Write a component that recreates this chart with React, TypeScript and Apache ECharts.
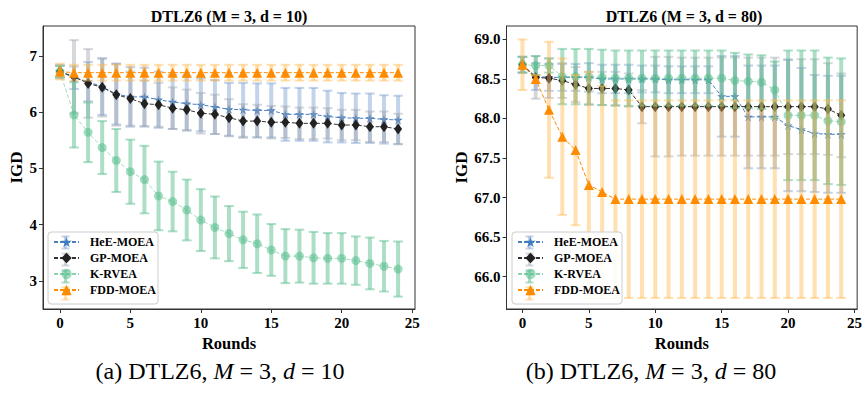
import React, { useEffect, useRef } from "react";
import * as echarts from "echarts";

const rounds = [0, 1, 2, 3, 4, 5, 6, 7, 8, 9, 10, 11, 12, 13, 14, 15, 16, 17, 18, 19, 20, 21, 22, 23, 24];
const methodNames = ["HeE-MOEA", "GP-MOEA", "K-RVEA", "FDD-MOEA"];
const xTicks = [0, 5, 10, 15, 20, 25];
const yTicksLeft = [3, 4, 5, 6, 7];
const yTicksRight = [66.0, 66.5, 67.0, 67.5, 68.0, 68.5, 69.0];

// (a) d = 10
const heMeanL = [6.72, 6.61, 6.54, 6.45, 6.32, 6.27, 6.27, 6.22, 6.18, 6.15, 6.13, 6.09, 6.05, 6.04, 6.03, 6.03, 5.96, 5.96, 5.96, 5.92, 5.90, 5.89, 5.89, 5.87, 5.86];
const heStdL = [0.12, 0.20, 0.35, 0.50, 0.54, 0.53, 0.52, 0.50, 0.48, 0.48, 0.47, 0.48, 0.47, 0.48, 0.48, 0.48, 0.47, 0.47, 0.47, 0.46, 0.44, 0.44, 0.44, 0.43, 0.43];
const gpMeanL = [6.72, 6.63, 6.51, 6.44, 6.31, 6.24, 6.15, 6.13, 6.07, 6.04, 5.98, 5.96, 5.90, 5.84, 5.84, 5.82, 5.82, 5.80, 5.80, 5.80, 5.77, 5.77, 5.74, 5.74, 5.70];
const gpStdL = [0.10, 0.65, 0.61, 0.52, 0.55, 0.48, 0.41, 0.39, 0.37, 0.36, 0.36, 0.35, 0.33, 0.30, 0.29, 0.29, 0.28, 0.28, 0.28, 0.27, 0.27, 0.27, 0.27, 0.27, 0.27];
const krMeanL = [6.72, 5.95, 5.64, 5.37, 5.14, 4.94, 4.80, 4.51, 4.41, 4.26, 4.08, 3.95, 3.84, 3.73, 3.66, 3.55, 3.44, 3.44, 3.41, 3.40, 3.40, 3.36, 3.31, 3.26, 3.21];
const krStdL = [0.10, 0.58, 0.53, 0.47, 0.56, 0.57, 0.60, 0.61, 0.53, 0.54, 0.55, 0.55, 0.49, 0.50, 0.52, 0.46, 0.48, 0.47, 0.46, 0.45, 0.45, 0.43, 0.46, 0.45, 0.49];
const fdMeanL = [6.72, 6.70, 6.70, 6.70, 6.70, 6.70, 6.70, 6.70, 6.70, 6.70, 6.70, 6.70, 6.70, 6.70, 6.70, 6.70, 6.70, 6.70, 6.70, 6.70, 6.70, 6.70, 6.70, 6.70, 6.70];
const fdStdL = [0.14, 0.14, 0.14, 0.14, 0.14, 0.14, 0.14, 0.14, 0.14, 0.14, 0.14, 0.14, 0.14, 0.14, 0.14, 0.14, 0.14, 0.14, 0.14, 0.14, 0.14, 0.14, 0.14, 0.14, 0.14];

// (b) d = 80
const heMeanR = [68.68, 68.53, 68.52, 68.52, 68.52, 68.52, 68.50, 68.50, 68.50, 68.50, 68.50, 68.49, 68.49, 68.49, 68.49, 68.28, 68.28, 68.02, 68.02, 68.02, 67.91, 67.86, 67.81, 67.80, 67.80];
const heStdR = [0.10, 0.17, 0.17, 0.17, 0.17, 0.18, 0.18, 0.18, 0.18, 0.17, 0.17, 0.17, 0.17, 0.17, 0.17, 0.51, 0.51, 0.65, 0.65, 0.65, 0.83, 0.78, 0.74, 0.74, 0.74];
const gpMeanR = [68.68, 68.52, 68.51, 68.48, 68.43, 68.38, 68.38, 68.38, 68.36, 68.15, 68.15, 68.15, 68.15, 68.15, 68.15, 68.15, 68.15, 68.15, 68.15, 68.15, 68.15, 68.15, 68.15, 68.12, 68.04];
const gpStdR = [0.10, 0.27, 0.25, 0.22, 0.22, 0.21, 0.21, 0.21, 0.21, 0.21, 0.63, 0.63, 0.62, 0.62, 0.62, 0.62, 0.62, 0.62, 0.62, 0.62, 0.60, 0.60, 0.60, 0.58, 0.53];
const krMeanR = [68.68, 68.67, 68.67, 68.53, 68.53, 68.53, 68.52, 68.51, 68.51, 68.51, 68.51, 68.51, 68.51, 68.51, 68.51, 68.51, 68.48, 68.47, 68.46, 68.36, 68.04, 68.04, 68.04, 67.97, 67.96];
const krStdR = [0.10, 0.12, 0.09, 0.35, 0.35, 0.35, 0.35, 0.35, 0.35, 0.35, 0.35, 0.35, 0.35, 0.35, 0.35, 0.35, 0.35, 0.34, 0.34, 0.36, 0.82, 0.82, 0.82, 0.80, 0.80];
const fdMeanR = [68.68, 68.50, 68.11, 67.77, 67.60, 67.16, 67.07, 66.98, 66.98, 66.98, 66.98, 66.98, 66.98, 66.98, 66.98, 66.98, 66.98, 66.98, 66.98, 66.98, 66.98, 66.98, 66.98, 66.98, 66.98];
const fdStdR = [0.32, 0.05, 0.86, 0.99, 0.95, 1.43, 1.34, 1.25, 1.25, 1.25, 1.25, 1.25, 1.25, 1.25, 1.25, 1.25, 1.25, 1.25, 1.25, 1.25, 1.25, 1.25, 1.25, 1.25, 1.25];

const SERIF = "'Liberation Serif', 'Times New Roman', serif";
const STAR = "path://M50,2 L61,36 L97,36 L68,57 L79,92 L50,71 L21,92 L32,57 L3,36 L39,36 Z";

const styles = [
  { symbol: STAR, size: 9, color: "#3f7cc0", line: "#4a7fc1", err: "rgba(110,150,205,0.42)" },
  { symbol: "diamond", size: [8, 11], color: "#222222", line: "#333333", err: "rgba(165,168,178,0.45)" },
  { symbol: "circle", size: 9, color: "rgba(86,190,140,0.55)", line: "rgba(110,200,155,0.8)", err: "rgba(92,191,143,0.5)" },
  { symbol: "triangle", size: 10, color: "#ff8c00", line: "#ff8c00", err: "rgba(255,180,70,0.42)" },
];

function errSeries(axis: number, means: number[], stds: number[], color: string, z: number) {
  return {
    type: "custom",
    xAxisIndex: axis,
    yAxisIndex: axis,
    z,
    silent: true,
    clip: true,
    encode: { x: 0, y: [1, 2] },
    data: rounds.map((r, i) => [r, means[i] - stds[i], means[i] + stds[i]]),
    renderItem: (params: any, api: any) => {
      const x = api.value(0);
      const lo = api.coord([x, api.value(1)]);
      const hi = api.coord([x, api.value(2)]);
      const w = 4.8;
      return {
        type: "group",
        children: [
          { type: "line", shape: { x1: lo[0], y1: lo[1], x2: hi[0], y2: hi[1] }, style: { stroke: color, lineWidth: 4 } },
          { type: "line", shape: { x1: lo[0] - w, y1: lo[1], x2: lo[0] + w, y2: lo[1] }, style: { stroke: color, lineWidth: 2 } },
          { type: "line", shape: { x1: hi[0] - w, y1: hi[1], x2: hi[0] + w, y2: hi[1] }, style: { stroke: color, lineWidth: 2 } },
        ],
      };
    },
  };
}

function lineSeries(axis: number, k: number, means: number[], z: number) {
  const s = styles[k];
  return {
    type: "line",
    name: methodNames[k],
    xAxisIndex: axis,
    yAxisIndex: axis,
    z,
    data: rounds.map((r, i) => [r, means[i]]),
    symbol: s.symbol,
    symbolSize: s.size,
    showSymbol: true,
    itemStyle: { color: s.color },
    lineStyle: { color: s.line, width: k === 2 ? 0.8 : 1, type: [4, 2] },
  };
}

function xAxis(grid: number) {
  return {
    type: "value",
    gridIndex: grid,
    min: -1.2,
    max: 25.2,
    name: "Rounds",
    nameLocation: "middle",
    nameGap: 21,
    nameTextStyle: { fontFamily: SERIF, fontWeight: "bold", fontSize: 16.5, color: "#000" },
    axisLine: { show: true, onZero: false, lineStyle: { color: "#333", width: 1 } },
    axisTick: { show: true, length: 4, customValues: xTicks, lineStyle: { color: "#333" } },
    axisLabel: { customValues: xTicks, margin: 6, fontFamily: SERIF, fontWeight: "bold", fontSize: 15, color: "#000" },
    splitLine: { show: false },
  };
}

function yAxis(grid: number, min: number, max: number, ticks: number[], digits: number, gap: number) {
  return {
    type: "value",
    gridIndex: grid,
    min,
    max,
    name: "IGD",
    nameLocation: "middle",
    nameGap: gap,
    nameTextStyle: { fontFamily: SERIF, fontWeight: "bold", fontSize: 17, color: "#000" },
    axisLine: { show: true, onZero: false, lineStyle: { color: "#333", width: 1 } },
    axisTick: { show: true, length: 4, customValues: ticks, lineStyle: { color: "#333" } },
    axisLabel: {
      customValues: ticks,
      margin: 6,
      fontFamily: SERIF,
      fontWeight: "bold",
      fontSize: 15,
      color: "#000",
      formatter: (v: number) => v.toFixed(digits),
    },
    splitLine: { show: false },
  };
}

const LEG_TOP = 232;
const LEG_ROW = 17;

function legend(left: number) {
  return {
    data: methodNames,
    orient: "vertical",
    left,
    top: LEG_TOP,
    z: 30,
    itemWidth: 25,
    itemHeight: 13,
    itemGap: 4,
    padding: [4, 6, 4, 5],
    backgroundColor: "transparent",
    borderWidth: 0,
    selectedMode: false,
    textStyle: { fontFamily: SERIF, fontWeight: "bold", fontSize: 12, color: "#000", padding: [0, 0, 0, 6] },
  };
}

function legendDecor(left: number) {
  const els: any[] = [
    {
      type: "rect",
      z: 25,
      shape: { x: left, y: LEG_TOP, width: 110, height: 72, r: 3 },
      style: { fill: "rgba(255,255,255,0.88)", stroke: "#cccccc", lineWidth: 1 },
    },
  ];
  const cx = left + 5 + 12.5;
  for (let k = 0; k < 4; k++) {
    const cy = LEG_TOP + 4 + 6.5 + k * LEG_ROW;
    const c = styles[k].err;
    els.push({ type: "line", z: 26, shape: { x1: cx, y1: cy - 6, x2: cx, y2: cy + 6 }, style: { stroke: c, lineWidth: 3 } });
    els.push({ type: "line", z: 26, shape: { x1: cx - 4, y1: cy - 6, x2: cx + 4, y2: cy - 6 }, style: { stroke: c, lineWidth: 2 } });
    els.push({ type: "line", z: 26, shape: { x1: cx - 4, y1: cy + 6, x2: cx + 4, y2: cy + 6 }, style: { stroke: c, lineWidth: 2 } });
  }
  return els;
}

export default function App() {
  const ref = useRef<HTMLDivElement>(null);
  useEffect(() => {
    if (!ref.current) return;
    const chart = echarts.init(ref.current, null, { renderer: "svg" });
    const left = [heMeanL, gpMeanL, krMeanL, fdMeanL];
    const leftS = [heStdL, gpStdL, krStdL, fdStdL];
    const right = [heMeanR, gpMeanR, krMeanR, fdMeanR];
    const rightS = [heStdR, gpStdR, krStdR, fdStdR];
    const series: any[] = [];
    for (let k = 0; k < 4; k++) {
      series.push(errSeries(0, left[k], leftS[k], styles[k].err, 2 + 2 * k));
      series.push(lineSeries(0, k, left[k], 3 + 2 * k));
      series.push(errSeries(1, right[k], rightS[k], styles[k].err, 2 + 2 * k));
      series.push(lineSeries(1, k, right[k], 3 + 2 * k));
    }
    const titleStyle = { fontFamily: SERIF, fontWeight: "bold", fontSize: 16, fill: "#000", textAlign: "center", textVerticalAlign: "middle" };
    const capRich = {
      r: { fontFamily: SERIF, fontSize: 24, color: "#111" },
      i: { fontFamily: SERIF, fontSize: 24, fontStyle: "italic", color: "#111" },
    };
    chart.setOption({
      animation: false,
      backgroundColor: "#ffffff",
      grid: [
        { left: 43, top: 26, width: 372, height: 283, show: true, borderColor: "#333", borderWidth: 1, backgroundColor: "transparent" },
        { left: 506.5, top: 26, width: 355, height: 283, show: true, borderColor: "#333", borderWidth: 1, backgroundColor: "transparent" },
      ],
      xAxis: [xAxis(0), xAxis(1)],
      yAxis: [yAxis(0, 2.5, 7.53, yTicksLeft, 0, 18), yAxis(1, 65.59, 69.17, yTicksRight, 1, 35)],
      legend: [legend(48), legend(512)],
      series,
      graphic: [
        { type: "text", x: 229, y: 16, style: { ...titleStyle, text: "DTLZ6 (M = 3, d = 10)" } },
        { type: "text", x: 684, y: 16, style: { ...titleStyle, text: "DTLZ6 (M = 3, d = 80)" } },
        {
          type: "text",
          x: 220,
          y: 371,
          style: { text: "{r|(a) DTLZ6, }{i|M}{r| = 3, }{i|d}{r| = 10}", rich: capRich, textAlign: "center", textVerticalAlign: "middle" },
        },
        {
          type: "text",
          x: 651,
          y: 371,
          style: { text: "{r|(b) DTLZ6, }{i|M}{r| = 3, }{i|d}{r| = 80}", rich: capRich, textAlign: "center", textVerticalAlign: "middle" },
        },
        ...legendDecor(48),
        ...legendDecor(512),
      ],
    });
    return () => chart.dispose();
  }, []);
  return <div ref={ref} style={{ position: "absolute", left: 0, top: 0, width: 865, height: 394, background: "#fff" }} />;
}
